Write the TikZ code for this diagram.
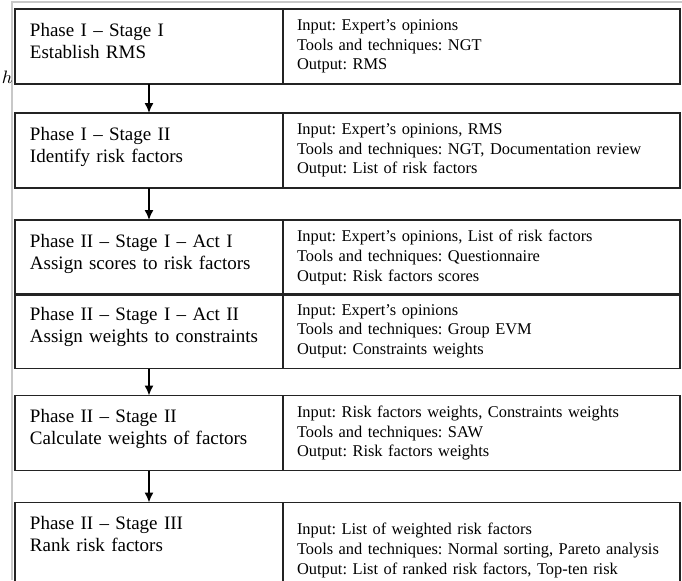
\documentclass[tikz,border=0pt]{standalone}
\usepackage{fontspec}
\setmainfont{Liberation Serif}
\usepackage{tikz}
\usetikzlibrary{arrows.meta,positioning}
\frenchspacing

\begin{document}
\begin{tikzpicture}[>={Latex[length=5pt,width=4.5pt]}, line width=0.75pt]
    \definecolor{framegray}{RGB}{200,200,200}
    \definecolor{boxline}{RGB}{35,35,35}

    % 左侧: 阶段框 (文字靠上), 右侧: 输入/工具/输出框 (文字居中)
    \tikzstyle{phase}=[rectangle,draw=boxline,outer sep=0pt,align=left,text width=119pt,inner xsep=7.5pt,inner ysep=6.75pt,text height=6.75pt,text depth=17.25pt,font=\fontsize{9.5}{11}\selectfont]
    \tikzstyle{detail}=[rectangle,draw=boxline,outer sep=0pt,align=left,text width=184.5pt,inner xsep=7pt,inner ysep=0pt,minimum height=37.5pt,font=\fontsize{8.2}{9.8}\selectfont]

    % 画布大小与外框
    \path[use as bounding box,clip] (0,0) rectangle (341pt,-290pt);
    \draw[framegray,line width=0.6pt] (6pt,-290pt) |- (341pt,-1pt);
    \node[anchor=base west,inner sep=0pt,font=\fontsize{8.8}{10}\selectfont] (stray) at (0.5pt,-41.5pt) {$h$};

    % 各阶段
    \node[phase,anchor=north west] (ph1) at (7.5pt,-4.5pt) {Phase I -- Stage I\\Establish RMS};
    \node[detail,right=0pt of ph1] (io1) {Input: Expert's opinions\\Tools and techniques: NGT\\Output: RMS};
    \node[phase,below=14.5pt of ph1] (ph2) {Phase I -- Stage II\\Identify risk factors};
    \node[detail,right=0pt of ph2] (io2) {Input: Expert's opinions, RMS\\Tools and techniques: NGT, Documentation review\\Output: List of risk factors};
    \node[phase,below=16pt of ph2] (ph3) {Phase II -- Stage I -- Act I\\Assign scores to risk factors};
    \node[detail,right=0pt of ph3] (io3) {Input: Expert's opinions, List of risk factors\\Tools and techniques: Questionnaire\\Output: Risk factors scores};
    \node[phase,below=-0.75pt of ph3] (ph4) {Phase II -- Stage I -- Act II\\Assign weights to constraints};
    \node[detail,right=0pt of ph4] (io4) {Input: Expert's opinions\\Tools and techniques: Group EVM\\Output: Constraints weights};
    \node[phase,below=13.5pt of ph4] (ph5) {Phase II -- Stage II\\Calculate weights of factors};
    \node[detail,right=0pt of ph5] (io5) {Input: Risk factors weights, Constraints weights\\Tools and techniques: SAW\\Output: Risk factors weights};
    \node[phase,below=16pt of ph5,text depth=27.75pt] (ph6) {Phase II -- Stage III\\Rank risk factors};
    \node[detail,right=0pt of ph6,minimum height=48pt] (io6) {Input: List of weighted risk factors\\Tools and techniques: Normal sorting, Pareto analysis\\Output: List of ranked risk factors, Top-ten risk};

    % 箭头
    \draw[->](ph1)--(ph2);
    \draw[->](ph2)--(ph3);
    \draw[->](ph4)--(ph5);
    \draw[->](ph5)--(ph6);
\end{tikzpicture}
\end{document}
